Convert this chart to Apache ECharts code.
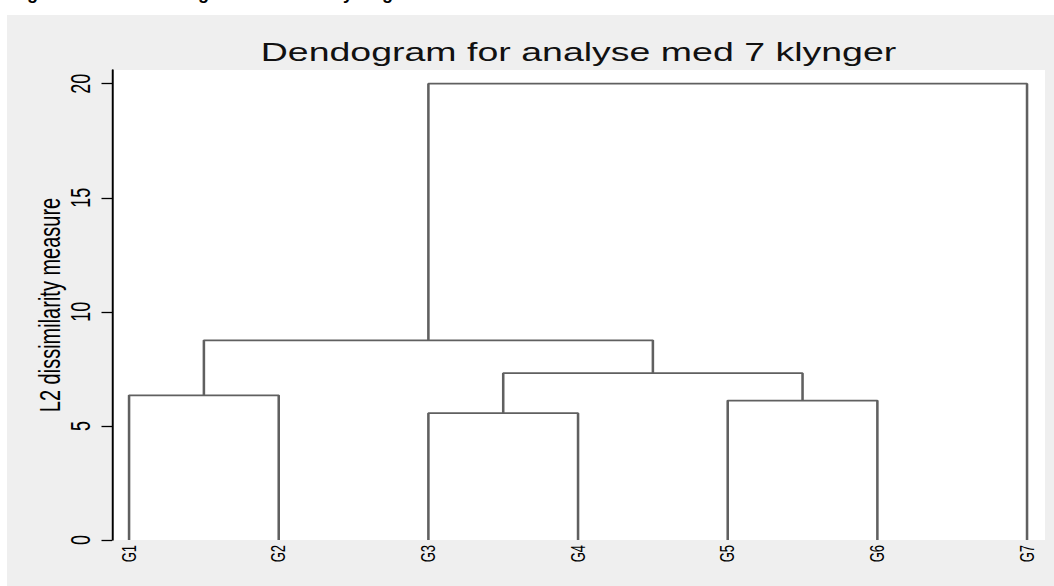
<!DOCTYPE html>
<html>
<head>
<meta charset="utf-8">
<script src="https://cdn.jsdelivr.net/npm/echarts@6/dist/echarts.min.js"></script>
<style>
  body { margin: 0; background: #fff; width: 1054px; height: 586px; position: relative; overflow: hidden; }
  .caption { position: absolute; left: 0; top: 0; width: 1054px; height: 8px; overflow: hidden; }
  .caption span { position: absolute; top: -17px; font: bold 18px 'Liberation Sans', Arial, sans-serif; color: #000; }
  .wrap { position: absolute; left: 7px; top: 15px; width: 1047px; height: 571px; background: #efefef; overflow: hidden; }
  .dendo { width: 698px; height: 571px; transform: scaleX(1.5); transform-origin: 0 0; }
</style>
</head>
<body>
<div class="caption">
  <span style="left:27px">g</span>
  <span style="left:198px">g</span>
  <span style="left:343px">y</span>
  <span style="left:382px">g</span>
</div>
<div class="wrap"><div class="dendo" id="dendo"></div></div>
<script>
// leaves and merges (node 1..7 = leaves, node 7+k = k-th merge)
var leafLabels = ['G1', 'G2', 'G3', 'G4', 'G5', 'G6', 'G7']
var mergeLeft = [1, 3, 5, 9, 8, 12]
var mergeRight = [2, 4, 6, 10, 11, 7]
var mergeHeight = [6.34, 5.56, 6.11, 7.31, 8.75, 20.0]
var yTicks = [0, 5, 10, 15, 20]
var leafPos = [1, 2, 3, 4, 5, 6, 7]

var titleText = 'Dendogram for analyse med 7 klynger'
var yName = 'L2 dissimilarity measure'

var nodeX = leafPos.slice()
var nodeH = leafPos.map(function () { return 0 })
var series = []
mergeLeft.forEach(function (a, i) {
  var b = mergeRight[i]
  var h = mergeHeight[i]
  var xa = nodeX[a - 1], xb = nodeX[b - 1]
  series.push({
    type: 'line',
    symbol: 'none',
    silent: true,
    lineStyle: { color: '#606060', width: 1.7 },
    data: [[xa, nodeH[a - 1]], [xa, h], [xb, h], [xb, nodeH[b - 1]]]
  })
  nodeX.push((xa + xb) / 2)
  nodeH.push(h)
})

var myChart = echarts.init(document.getElementById('dendo'), null, { renderer: 'svg' })
var font = "'Liberation Sans', Arial, Helvetica, sans-serif"
var option = {
  animation: false,
  backgroundColor: '#efefef',
  graphic: [{
    type: 'text',
    x: 381,
    y: 25,
    style: {
      text: titleText,
      font: '25px ' + font,
      fill: '#111',
      textAlign: 'center',
      textVerticalAlign: 'top'
    }
  }],
  grid: {
    show: true,
    backgroundColor: '#fff',
    borderWidth: 0,
    left: 70,
    right: 6,
    top: 55,
    bottom: 46
  },
  xAxis: {
    type: 'value',
    min: 0.886,
    max: 7.12,
    splitLine: { show: false },
    axisLine: { show: false },
    axisTick: { show: false },
    axisLabel: {
      customValues: leafPos,
      rotate: 90,
      margin: 5,
      fontSize: 13,
      fontFamily: font,
      color: '#000',
      formatter: function (v) { return leafLabels[Math.round(v) - 1] }
    }
  },
  yAxis: {
    type: 'value',
    min: 0,
    max: 20.6,
    name: yName,
    nameLocation: 'middle',
    nameRotate: 90,
    nameGap: 32,
    nameMoveOverlap: false,
    nameTextStyle: { fontSize: 20, fontFamily: font, color: '#000' },
    splitLine: { show: false },
    axisLine: { show: true, lineStyle: { color: '#000', width: 1.3 } },
    axisTick: { show: true, customValues: yTicks, length: 7, lineStyle: { color: '#000', width: 1.3 } },
    axisLabel: {
      customValues: yTicks,
      rotate: 90,
      margin: 12,
      fontSize: 18,
      fontFamily: font,
      color: '#000'
    }
  },
  series: series
}
option && myChart.setOption(option)
window.addEventListener('resize', myChart.resize)
</script>
</body>
</html>
